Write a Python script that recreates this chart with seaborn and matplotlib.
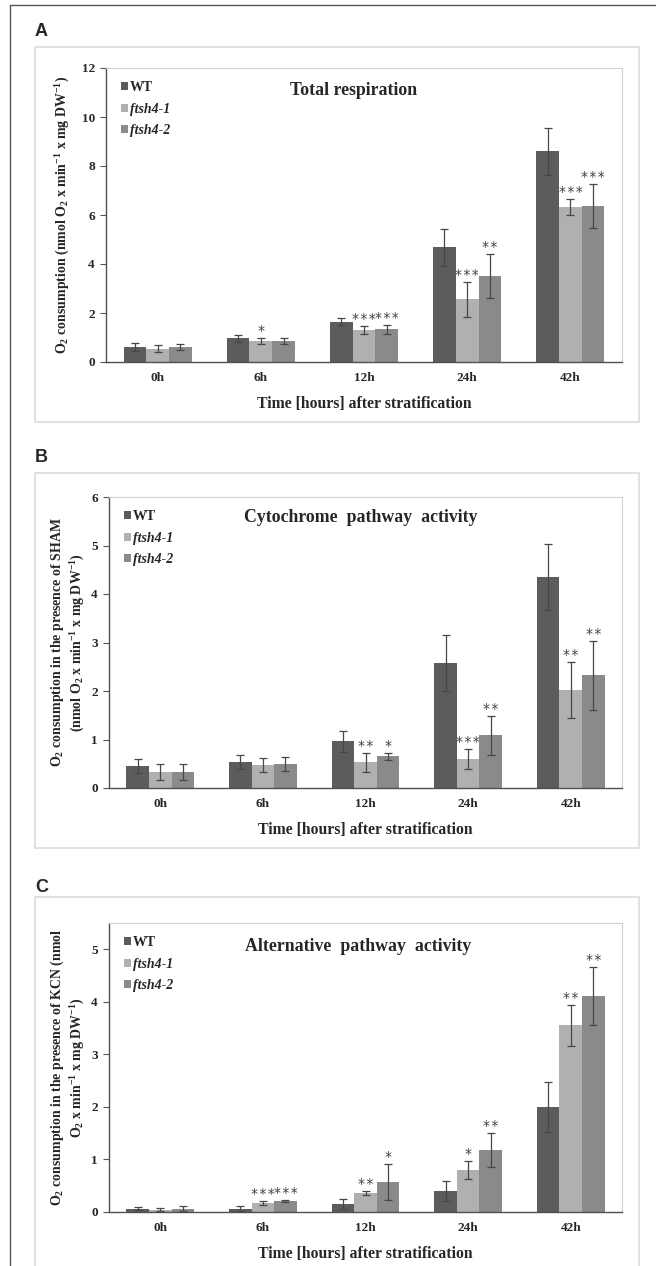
import numpy as np
import pandas as pd
import matplotlib
matplotlib.use('Agg')
import matplotlib.pyplot as plt
from matplotlib.patches import Rectangle
from matplotlib.lines import Line2D
from matplotlib.ticker import FormatStrFormatter
import seaborn as sns

times = ['0h', '6h', '12h', '24h', '42h']
genotypes = ['WT', 'ftsh4-1', 'ftsh4-2']
bar_colors = ['#5c5c5c', '#b0b0b0', '#8a8a8a']

# A - total respiration, rows follow genotypes
total_mean = [[0.60, 0.96, 1.65, 4.68, 8.60],
              [0.55, 0.85, 1.30, 2.56, 6.32],
              [0.60, 0.87, 1.33, 3.50, 6.36]]
total_err = [[0.17, 0.15, 0.13, 0.76, 0.97],
             [0.15, 0.13, 0.17, 0.72, 0.33],
             [0.13, 0.12, 0.20, 0.90, 0.90]]
total_stars = [['', '', '', '', ''],
               ['', '*', '***', '***', '***'],
               ['', '', '***', '**', '***']]

# B - cytochrome pathway (SHAM)
cyt_mean = [[0.45, 0.54, 0.96, 2.57, 4.36],
            [0.33, 0.47, 0.53, 0.60, 2.02],
            [0.33, 0.50, 0.65, 1.09, 2.32]]
cyt_err = [[0.15, 0.14, 0.21, 0.58, 0.68],
           [0.16, 0.15, 0.19, 0.20, 0.57],
           [0.17, 0.14, 0.07, 0.40, 0.71]]
cyt_stars = [['', '', '', '', ''],
             ['', '', '**', '***', '**'],
             ['', '', '*', '**', '**']]

# C - alternative pathway (KCN)
alt_mean = [[0.06, 0.06, 0.15, 0.40, 2.00],
            [0.04, 0.17, 0.36, 0.80, 3.55],
            [0.06, 0.21, 0.57, 1.18, 4.11]]
alt_err = [[0.03, 0.05, 0.10, 0.19, 0.47],
           [0.03, 0.03, 0.04, 0.17, 0.39],
           [0.05, 0.02, 0.34, 0.32, 0.56]]
alt_stars = [['', '', '', '', ''],
             ['', '***', '**', '*', '**'],
             ['', '***', '*', '**', '**']]

sns.set_style('white')
plt.rcParams['font.family'] = ['Liberation Serif', 'DejaVu Serif']
plt.rcParams['font.weight'] = 'bold'
plt.rcParams['mathtext.fontset'] = 'custom'
plt.rcParams['mathtext.rm'] = 'Liberation Serif:bold'
plt.rcParams['mathtext.it'] = 'Liberation Serif:italic:bold'
plt.rcParams['mathtext.bf'] = 'Liberation Serif:bold'
plt.rcParams['mathtext.default'] = 'rm'

W, H = 663, 1266
fig = plt.figure(figsize=(W / 100, H / 100), dpi=100)


def px_axes(left, right, top, bottom):
    return fig.add_axes([left / W, 1 - bottom / H, (right - left) / W, (bottom - top) / H])


def draw_panel(ax, mean, err, stars, ylim, ystep, title, title_pos, ylabel, ylabel_x):
    df = pd.DataFrame([(t, g, v) for g, row in zip(genotypes, mean) for t, v in zip(times, row)],
                      columns=['time', 'genotype', 'value'])
    sns.barplot(data=df, x='time', y='value', hue='genotype', order=times, hue_order=genotypes,
                palette=bar_colors, width=0.66, gap=0, errorbar=None, saturation=1,
                linewidth=0, ax=ax)

    # error bars and significance marks, placed on seaborn's bars
    for cont, e_row, s_row in zip(ax.containers, err, stars):
        xs = [p.get_x() + p.get_width() / 2 for p in cont]
        ys = [p.get_height() for p in cont]
        ax.errorbar(xs, ys, yerr=e_row, fmt='none', ecolor='#474747',
                    elinewidth=0.9, capsize=2.8, capthick=0.9, zorder=3)
        for x, y, e, s in zip(xs, ys, e_row, s_row):
            if s:
                ax.annotate('\u200a'.join(s), (x, y + e), xytext=(0, 0), textcoords='offset points',
                            ha='center', va='bottom', fontsize=10, fontweight='normal',
                            family=['DejaVu Sans'], color='#404040')

    ax.set_xlim(-0.5, 4.5)
    ax.set_ylim(0, ylim)
    ax.set_yticks(np.arange(0, ylim + 1e-6, ystep))
    ax.yaxis.set_major_formatter(FormatStrFormatter('%g'))
    ax.tick_params(axis='y', length=4, width=0.8, color='#555555', labelsize=9.5, pad=4, left=True)
    ax.tick_params(axis='x', length=0, labelsize=9.5, pad=7)
    for lab in ax.get_xticklabels() + ax.get_yticklabels():
        lab.set_fontweight('bold')

    for side in ['left', 'bottom']:
        ax.spines[side].set_color('#505050')
        ax.spines[side].set_linewidth(1.0)
    for side in ['top', 'right']:
        ax.spines[side].set_color('#d0d0d0')
        ax.spines[side].set_linewidth(0.8)

    ax.set_xlabel('Time [hours] after stratification', fontsize=11.3, fontweight='bold', labelpad=9)
    ax.set_ylabel(ylabel, fontsize=10, fontweight='bold', va='center', ha='center',
                  multialignment='center')
    ax.yaxis.set_label_coords(ylabel_x, 0.5)

    ax.text(title_pos[0], title_pos[1], title, transform=ax.transAxes, ha='center', va='center',
            fontsize=12.8, fontweight='bold')

    handles, labels = ax.get_legend_handles_labels()
    leg = ax.legend(handles, labels, loc='upper left', bbox_to_anchor=(0.005, 0.998), frameon=False,
                    handlelength=0.5, handleheight=0.5, handletextpad=0.12, labelspacing=0.62,
                    prop={'family': 'Liberation Serif', 'weight': 'bold', 'size': 10})
    for t in leg.get_texts()[1:]:
        t.set_fontstyle('italic')


# light boxes around each panel and outer frame
for y0, y1 in [(47, 422), (473, 848), (897, 1275)]:
    fig.add_artist(Rectangle((35 / W, 1 - y1 / H), (639 - 35) / W, (y1 - y0) / H,
                             transform=fig.transFigure, fill=False, ec='#dcdcdc', lw=1.2))
fig.add_artist(Line2D([10 / W, 10 / W], [0, 1 - 5 / H], transform=fig.transFigure, color='#555555', lw=1))
fig.add_artist(Line2D([10 / W, 655 / W], [1 - 5 / H, 1 - 5 / H], transform=fig.transFigure, color='#555555', lw=1))

for letter, y in [('A', 31), ('B', 458), ('C', 888)]:
    fig.text(35 / W, 1 - y / H, letter, fontsize=13, fontweight='bold', family='Liberation Sans',
             ha='left', va='center')

ax_a = px_axes(106, 622, 68, 362)
draw_panel(ax_a, total_mean, total_err, total_stars, 12, 2, 'Total respiration', (0.48, 0.925),
           r'O$_2$ consumption (nmol O$_2$ x min$^{-1}$ x mg DW$^{-1}$)', -0.083)

ax_b = px_axes(109, 622, 497, 788)
draw_panel(ax_b, cyt_mean, cyt_err, cyt_stars, 6, 1, 'Cytochrome  pathway  activity', (0.49, 0.928),
           'O$_2$ consumption in the presence of SHAM\n(nmol O$_2$ x min$^{-1}$ x mg DW$^{-1}$)', -0.080)

ax_c = px_axes(109, 622, 923, 1212)
draw_panel(ax_c, alt_mean, alt_err, alt_stars, 5.5, 1, 'Alternative  pathway  activity', (0.485, 0.917),
           'O$_2$ consumption in the presence of KCN (nmol\nO$_2$ x min$^{-1}$ x mg DW$^{-1}$)', -0.080)

fig.savefig('out.png', dpi=100)
